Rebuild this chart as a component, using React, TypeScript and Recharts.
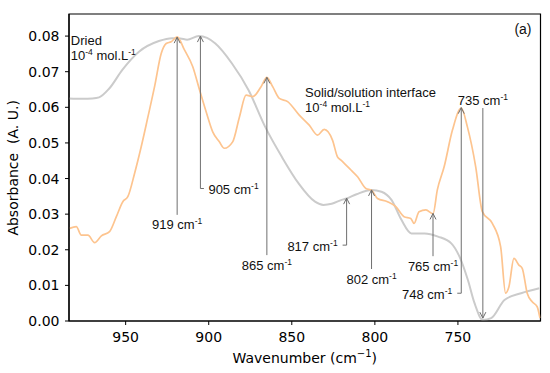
import React from 'react';
import { ComposedChart, Line, XAxis, YAxis, ReferenceLine, ReferenceDot, ReferenceArea } from 'recharts';

// Dried sample (grey)
const driedWavenumber = [984, 976, 970, 966, 960, 952, 942, 930, 922, 917, 913, 906, 901, 896, 886, 876, 866, 856, 846, 836, 831, 826, 820, 817, 811, 802, 796, 790, 784, 778, 770, 762, 754, 749, 744, 740, 735, 730, 722, 712, 701];
const driedAbsorbance = [0.0625, 0.0624, 0.0625, 0.0628, 0.0652, 0.0705, 0.0756, 0.0786, 0.0794, 0.0793, 0.079, 0.08, 0.0795, 0.0779, 0.0723, 0.0648, 0.0545, 0.0461, 0.0387, 0.0335, 0.0326, 0.0329, 0.034, 0.0344, 0.0356, 0.0368, 0.0363, 0.034, 0.0284, 0.0246, 0.0246, 0.0237, 0.0218, 0.018, 0.0115, 0.005, 0.0003, 0.0008, 0.0059, 0.0078, 0.0092];

// Solid/solution interface (orange)
const solutionWavenumber = [983.7, 979.7, 976.7, 972.7, 968.7, 964.6, 959.7, 955.6, 951.7, 948.7, 944.6, 940.6, 936.6, 932.6, 928.6, 925.6, 922.6, 919, 914.6, 909.6, 905.6, 901.6, 897.6, 893.6, 890.6, 885.6, 881.5, 877.5, 873.5, 868.5, 865, 861.5, 857.5, 852.5, 845.5, 839.5, 834.5, 830.5, 825.5, 822.5, 820.4, 814.4, 810.4, 805.4, 802, 798.4, 792.4, 787.4, 782.4, 778.4, 776.4, 773.4, 769.3, 765, 762.4, 758.3, 753.3, 748, 744.3, 739.3, 735.3, 729.3, 724.3, 721.3, 719.3, 716.3, 713.3, 711.3, 708.3, 705.3, 702.3, 700.6];
const solutionAbsorbance = [0.026, 0.0265, 0.0241, 0.0241, 0.022, 0.0239, 0.0251, 0.0293, 0.0335, 0.0349, 0.0415, 0.049, 0.0573, 0.0658, 0.0751, 0.0779, 0.0784, 0.0798, 0.0761, 0.0714, 0.065, 0.0588, 0.0531, 0.0503, 0.0485, 0.0503, 0.0573, 0.0634, 0.063, 0.0658, 0.0684, 0.0658, 0.0625, 0.0616, 0.0578, 0.055, 0.0522, 0.0538, 0.0508, 0.0461, 0.0452, 0.0424, 0.0405, 0.0372, 0.0367, 0.0344, 0.0335, 0.0321, 0.0293, 0.0288, 0.0274, 0.0307, 0.0312, 0.0301, 0.0368, 0.0433, 0.0536, 0.0598, 0.0545, 0.0433, 0.0307, 0.0274, 0.0209, 0.0078, 0.0096, 0.0176, 0.0157, 0.0148, 0.0078, 0.0054, 0.004, 0.0008];

const xTicks = [750, 800, 850, 900, 950];
const yTicks = [0, 0.01, 0.02, 0.03, 0.04, 0.05, 0.06, 0.07, 0.08];

// Peak annotations
const peakWavenumber = [919, 905, 865, 817, 802, 765, 748];
const peakTipAbs = [0.0797, 0.08, 0.0684, 0.0345, 0.0368, 0.0302, 0.0599];
const peakLineEndAbs = [0.0298, 0.0372, 0.0185, 0.0213, 0.0146, 0.0182, 0.0078];
const peakLabelSide = ['below', 'right', 'below', 'left', 'below', 'below', 'left'];

const minimumWavenumber = 735;
const minimumTopAbs = 0.0598;
const minimumAbs = 0.0008;

const X_DOMAIN: [number, number] = [700.3, 984.1];
const Y_DOMAIN: [number, number] = [0, 0.0862];

const driedData = driedWavenumber.map((w, i) => ({ w, a: driedAbsorbance[i] })).sort((p, q) => q.w - p.w);
const solutionData = solutionWavenumber.map((w, i) => ({ w, a: solutionAbsorbance[i] })).sort((p, q) => q.w - p.w);

const ANN_FONT = '"Liberation Sans", Arial, sans-serif';
const AX_FONT = '"DejaVu Sans", sans-serif';
const ARROW = '#6f6f6f';

const CmLabel = ({ x, y, num, anchor }: { x: number; y: number; num: string; anchor: string }) => (
  <text x={x} y={y} textAnchor={anchor as any} fontFamily={ANN_FONT} fontSize={13} fill="#111">
    <tspan>{num} cm</tspan>
    <tspan dy={-5} fontSize={8.5}>-1</tspan>
  </text>
);

const arrowHead = (x: number, y: number, dir: number) => (
  <polyline points={`${x - 3},${y + dir * 6} ${x},${y} ${x + 3},${y + dir * 6}`} fill="none" stroke={ARROW} strokeWidth={1} />
);

const renderPeak = (p: any, i: number) => {
  const { x1, y1, y2 } = p;
  const side = peakLabelSide[i];
  const num = String(peakWavenumber[i]);
  const parts: any[] = [];
  parts.push(<line key="l" x1={x1} y1={y1} x2={x1} y2={y2} stroke={ARROW} strokeWidth={1} />);
  parts.push(<g key="h">{arrowHead(x1, y1, 1)}</g>);
  if (side === 'below') {
    parts.push(<CmLabel key="t" x={x1} y={y2 + 14.5} num={num} anchor="middle" />);
  } else if (side === 'right') {
    parts.push(<line key="k" x1={x1} y1={y2} x2={x1 + 3.5} y2={y2} stroke={ARROW} strokeWidth={1} />);
    parts.push(<CmLabel key="t" x={x1 + 8} y={y2 + 5.5} num={num} anchor="start" />);
  } else {
    parts.push(<line key="k" x1={x1} y1={y2} x2={x1 - 4} y2={y2} stroke={ARROW} strokeWidth={1} />);
    parts.push(<CmLabel key="t" x={x1 - 9} y={y2 + 5.5} num={num} anchor="end" />);
  }
  return <g>{parts}</g>;
};

const renderMinimum = (p: any) => {
  const { x1, y1, y2 } = p;
  return (
    <g>
      <line x1={x1} y1={y1} x2={x1} y2={y2} stroke={ARROW} strokeWidth={1} />
      {arrowHead(x1, y2, -1)}
      <CmLabel x={x1} y={y1 - 3.5} num={String(minimumWavenumber)} anchor="middle" />
    </g>
  );
};

const ConcLine = ({ x, y }: { x: number; y: number }) => (
  <text x={x} y={y} fontFamily={ANN_FONT} fontSize={13} fill="#111">
    <tspan>10</tspan>
    <tspan dy={-5} fontSize={8.5}>-4</tspan>
    <tspan dy={5}> mol.L</tspan>
    <tspan dy={-5} fontSize={8.5}>-1</tspan>
  </text>
);

export default function App() {
  return (
    <div style={{ position: 'absolute', left: 0, top: 0, width: 550, height: 373, background: '#fff' }}>
      <ComposedChart width={550} height={373} margin={{ top: 14, right: 9.5, left: 9, bottom: 0 }}>
        <XAxis
          type="number"
          dataKey="w"
          domain={X_DOMAIN}
          allowDataOverflow
          reversed
          ticks={xTicks}
          height={52}
          tickSize={4}
          tickMargin={7}
          axisLine={{ stroke: '#000', strokeWidth: 1.2 }}
          tickLine={{ stroke: '#000', strokeWidth: 1 }}
          tick={{ fill: '#000', fontSize: 14, fontFamily: AX_FONT }}
        />
        <YAxis
          type="number"
          domain={Y_DOMAIN}
          allowDataOverflow
          ticks={yTicks}
          width={60}
          tickSize={4}
          tickMargin={5.5}
          tickFormatter={(v: number) => v.toFixed(2)}
          axisLine={{ stroke: '#000', strokeWidth: 1.2 }}
          tickLine={{ stroke: '#000', strokeWidth: 1 }}
          tick={{ fill: '#000', fontSize: 14, fontFamily: AX_FONT }}
        />
        <ReferenceArea x1={X_DOMAIN[0]} x2={X_DOMAIN[1]} y1={Y_DOMAIN[0]} y2={Y_DOMAIN[1]} fill="none" stroke="#000" strokeWidth={1.2} fillOpacity={0} />
        <Line data={driedData} dataKey="a" type="monotone" stroke="#cbcbcb" strokeWidth={2} dot={false} isAnimationActive={false} />
        <Line data={solutionData} dataKey="a" type="monotone" stroke="#fdc48f" strokeWidth={1.7} dot={false} isAnimationActive={false} />
        {peakWavenumber.map((w, i) => (
          <ReferenceLine
            key={w}
            segment={[{ x: w, y: peakTipAbs[i] }, { x: w, y: peakLineEndAbs[i] }]}
            shape={(p: any) => renderPeak(p, i)}
          />
        ))}
        <ReferenceLine
          segment={[{ x: minimumWavenumber, y: minimumTopAbs }, { x: minimumWavenumber, y: minimumAbs }]}
          shape={renderMinimum}
        />
        <ReferenceDot x={983} y={0.0775} r={0} shape={(p: any) => (
          <g>
            <text x={p.cx} y={p.cy} fontFamily={ANN_FONT} fontSize={13} fill="#111">Dried</text>
            <ConcLine x={p.cx} y={p.cy + 15} />
          </g>
        )} />
        <ReferenceDot x={842} y={0.0628} r={0} shape={(p: any) => (
          <g>
            <text x={p.cx} y={p.cy} fontFamily={ANN_FONT} fontSize={13} fill="#111">Solid/solution interface</text>
            <ConcLine x={p.cx} y={p.cy + 15} />
          </g>
        )} />
        <ReferenceDot x={716} y={0.0806} r={0} shape={(p: any) => (
          <text x={p.cx} y={p.cy} fontFamily={ANN_FONT} fontSize={14} fill="#111">(a)</text>
        )} />
        <ReferenceDot x={842.2} y={0} r={0} shape={(p: any) => (
          <text x={p.cx} y={p.cy + 42} textAnchor="middle" fontFamily={AX_FONT} fontSize={14} fill="#000">
            <tspan>Wavenumber (cm</tspan>
            <tspan dy={-6} fontSize={10}>−1</tspan>
            <tspan dy={6}>)</tspan>
          </text>
        )} />
        <ReferenceDot x={984.1} y={0.043} r={0} shape={(p: any) => (
          <text
            x={p.cx - 50.5}
            y={p.cy}
            textAnchor="middle"
            transform={`rotate(-90, ${p.cx - 50.5}, ${p.cy})`}
            fontFamily={AX_FONT}
            fontSize={14}
            fill="#000"
          >
            {'Absorbance\u00A0\u00A0(A. U.)'}
          </text>
        )} />
      </ComposedChart>
    </div>
  );
}
